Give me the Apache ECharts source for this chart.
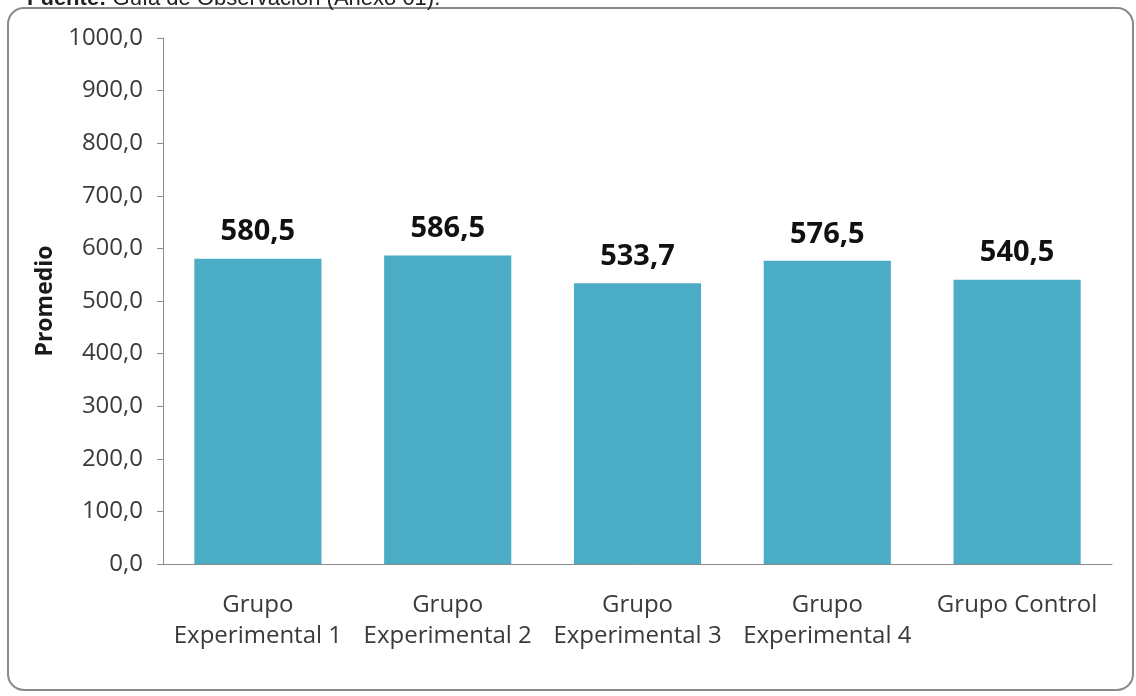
<!DOCTYPE html>
<html>
<head>
<meta charset="utf-8">
<script src="https://cdn.jsdelivr.net/npm/echarts@6/dist/echarts.min.js"></script>
<style>
  html, body { margin: 0; padding: 0; background: #ffffff; }
  #chart { width: 1136px; height: 696px; }
</style>
</head>
<body>
<div id="chart"></div>
<script>
// Group names and mean scores
const categories = [
  'Grupo\nExperimental 1',
  'Grupo\nExperimental 2',
  'Grupo\nExperimental 3',
  'Grupo\nExperimental 4',
  'Grupo Control'
];
const promedios = [580.5, 586.5, 533.7, 576.5, 540.5];
const yTicks = { min: 0, max: 1000, interval: 100 };

const fmt = v => v.toFixed(1).replace('.', ',');
const font = '"Open Sans", Lato, "Liberation Sans", sans-serif';
const srcFont = '"Liberation Sans", Arial, sans-serif';

const chart = echarts.init(document.getElementById('chart'), null, { renderer: 'canvas' });
chart.setOption({
  animation: false,
  backgroundColor: '#ffffff',
  graphic: [
    {
      type: 'rect',
      shape: { x: 8, y: 8, width: 1125, height: 682, r: 16 },
      style: { fill: 'none', stroke: '#8a8a8a', lineWidth: 2 },
      z: -1
    },
    {
      type: 'text',
      left: 27, top: -12,
      style: {
        text: '{b|Fuente:} Guía de Observación (Anexo 01).',
        fontFamily: srcFont,
        fontSize: 22,
        fill: '#222',
        rich: { b: { fontWeight: 'bold', fontSize: 22, fontFamily: srcFont, fill: '#222' } }
      }
    }
  ],
  grid: { left: 163, right: 24, top: 38, bottom: 132 },
  xAxis: {
    type: 'category',
    data: categories,
    axisLine: { show: true, lineStyle: { color: '#8c8c8c', width: 1 } },
    axisTick: { show: false },
    axisLabel: {
      interval: 0,
      color: '#3a3a3a',
      fontSize: 24,
      fontFamily: font,
      lineHeight: 31,
      margin: 26
    }
  },
  yAxis: {
    type: 'value',
    min: yTicks.min,
    max: yTicks.max,
    interval: yTicks.interval,
    name: 'Promedio',
    nameLocation: 'middle',
    nameGap: 106,
    nameRotate: 90,
    nameTextStyle: { color: '#1a1a1a', fontSize: 23, fontWeight: 'bold', fontFamily: font },
    axisLine: { show: true, lineStyle: { color: '#8c8c8c', width: 1 } },
    axisTick: { show: true, length: 6, lineStyle: { color: '#8c8c8c' } },
    splitLine: { show: false },
    axisLabel: {
      color: '#3a3a3a',
      fontSize: 24,
      fontFamily: font,
      margin: 20,
      formatter: v => fmt(v)
    }
  },
  series: [{
    type: 'bar',
    data: promedios,
    barWidth: '67%',
    itemStyle: { color: '#4BACC6' },
    label: {
      show: true,
      position: 'top',
      distance: 12,
      color: '#111',
      fontSize: 29,
      fontWeight: 'bold',
      fontFamily: font,
      formatter: p => fmt(p.value)
    }
  }]
});
</script>
</body>
</html>
